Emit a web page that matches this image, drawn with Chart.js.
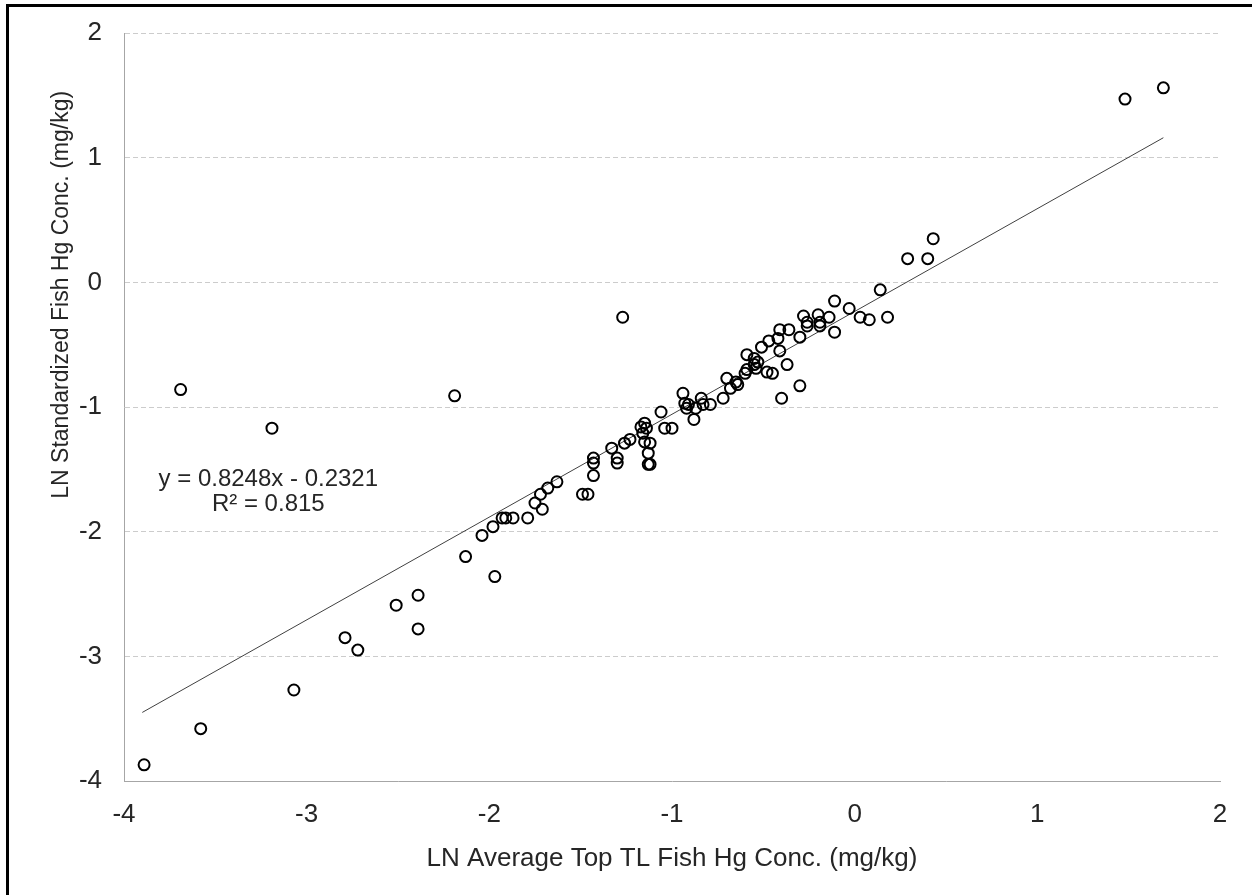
<!DOCTYPE html>
<html>
<head>
<meta charset="utf-8">
<script src="https://cdn.jsdelivr.net/npm/chart.js@4.4.1/dist/chart.umd.min.js"></script>
<style>
  html, body { margin: 0; padding: 0; background: #fff; }
  #wrap { position: relative; width: 1252px; height: 895px; }
  #frame { position: absolute; left: 6px; top: 4px; width: 1300px; height: 1000px;
           border-left: 3px solid #000; border-top: 3px solid #000; pointer-events: none; }
  canvas { position: absolute; left: 0; top: 0; }
</style>
</head>
<body>
<div id="wrap">
  <canvas id="chart" width="1252" height="895"></canvas>
  <div id="frame"></div>
</div>
<script>
// observed points, [LN average top TL Hg, LN standardized Hg]
const pointsX = [
  1.69, 1.48, 0.43, 0.29, 0.40, 0.14, -0.03, 0.03, 0.08, 0.18, -0.11, -0.11,
  -0.28, -0.20, -0.14, -0.26, -0.19, -0.26, -0.19,
  -0.30, -0.36, -0.41, -0.42, -0.47, -0.51, -0.41,
  -0.59, -0.55, -0.53, -0.55, -0.37, -0.48, -0.45,
  -0.59, -0.54, -0.60, -0.70, -0.65, -0.64, -0.68,
  -0.30, -0.40, -0.72,
  -0.94, -0.93, -0.91, -0.84, -0.83, -0.87, -0.79, -0.92, -0.88,
  -1.06, -1.04, -1.00,
  -1.15, -1.17, -1.14, -1.16, -1.15, -1.12, -1.13, -1.13, -1.12,
  -1.23, -1.26, -1.33, -1.30, -1.30, -1.43, -1.43, -1.43, -1.49, -1.46,
  -1.63, -1.68, -1.72, -1.75, -1.71, -1.79, -1.87, -1.91, -1.93, -1.98, -2.04, -2.13, -1.97,
  -3.89, -3.58, -3.07, -2.79, -2.72, -2.51, -2.39, -2.39, -3.69, -3.19, -2.19, -1.27
];
const pointsY = [
  1.56, 1.47, 0.35, 0.19, 0.19, -0.06, -0.21, -0.28, -0.30, -0.28, -0.15, -0.40,
  -0.27, -0.26, -0.28, -0.32, -0.32, -0.35, -0.35,
  -0.44, -0.38, -0.38, -0.45, -0.47, -0.52, -0.55,
  -0.58, -0.61, -0.64, -0.66, -0.66, -0.72, -0.73,
  -0.70, -0.69, -0.73, -0.77, -0.80, -0.82, -0.85,
  -0.83, -0.93, -0.93,
  -0.89, -0.97, -0.98, -0.93, -0.98, -1.01, -0.98, -1.01, -1.10,
  -1.04, -1.17, -1.17,
  -1.13, -1.16, -1.17, -1.21, -1.28, -1.29, -1.37, -1.46, -1.46,
  -1.26, -1.29, -1.33, -1.41, -1.45, -1.41, -1.45, -1.55, -1.70, -1.70,
  -1.60, -1.65, -1.70, -1.77, -1.82, -1.89, -1.89, -1.89, -1.89, -1.96, -2.03, -2.20, -2.36,
  -3.87, -3.58, -3.27, -2.85, -2.95, -2.59, -2.51, -2.78, -0.86, -1.17, -0.91, -0.28
];

// linear trendline end points
const trendX = [-3.90, 1.69];
const trendY = [-3.45, 1.16];

const xTicks = [-4, -3, -2, -1, 0, 1, 2];
const yTicks = [-4, -3, -2, -1, 0, 1, 2];
const eqLines = ['y = 0.8248x - 0.2321', 'R\u00b2 = 0.815'];
const yTitle = 'LN Standardized Fish Hg Conc. (mg/kg)';

const FONT = '"Liberation Sans", Arial, sans-serif';
const TXT = '#262626';

const scatterData = pointsX.map((x, i) => ({ x: x, y: pointsY[i] }));
const trendData = trendX.map((x, i) => ({ x: x, y: trendY[i] }));

// equation label + y title (the y title sits above the axis middle in the original)
const extraText = {
  id: 'extraText',
  afterDatasetsDraw(chart){
    const c = chart.ctx;
    const xs = chart.scales.x, ys = chart.scales.y;
    const cx = xs.getPixelForValue(-3.21);
    c.save();
    c.font = '24px ' + FONT;
    c.fillStyle = TXT;
    c.textAlign = 'center';
    c.textBaseline = 'middle';
    c.fillText(eqLines[0], cx, ys.getPixelForValue(-1.58));
    c.fillText(eqLines[1], cx, ys.getPixelForValue(-1.78));
    c.translate(62, ys.getPixelForValue(-0.1));
    c.rotate(-Math.PI / 2);
    c.font = '23px ' + FONT;
    c.fillText(yTitle, 0, 0);
    c.restore();
  }
};

new Chart(document.getElementById('chart'), {
  type: 'scatter',
  data: {
    datasets: [
      { label: 'points', data: scatterData, pointStyle: 'circle', pointRadius: 5.5, pointHoverRadius: 5.5,
        borderColor: '#000', borderWidth: 2, backgroundColor: 'rgba(0,0,0,0)', order: 1 },
      { label: 'trend', type: 'line', data: trendData, borderColor: '#404040', borderWidth: 1,
        pointRadius: 0, fill: false, order: 2 }
    ]
  },
  options: {
    responsive: false,
    animation: false,
    events: [],
    layout: { padding: { left: 0, top: 33, right: 32, bottom: 0 } },
    plugins: { legend: { display: false }, tooltip: { enabled: false } },
    scales: {
      x: {
        type: 'linear', min: -4, max: 2,
        afterBuildTicks: s => { s.ticks = xTicks.map(v => ({ value: v })); },
        afterFit: s => { s.height = 114; },
        grid: { display: false, drawTicks: false },
        border: { display: true, color: '#a6a6a6', width: 1 },
        ticks: { color: TXT, font: { family: FONT, size: 26 }, padding: 18 },
        title: { display: true, text: 'LN Average Top TL Fish Hg Conc. (mg/kg)', color: TXT,
                 font: { family: FONT, size: 26 }, padding: { top: 0, bottom: 21 } }
      },
      y: {
        type: 'linear', min: -4, max: 2,
        afterBuildTicks: s => { s.ticks = yTicks.map(v => ({ value: v })); },
        afterFit: s => { s.width = 124; s.paddingTop = 0; s.paddingBottom = 0; },
        grid: { drawTicks: false, color: ctx => ctx.tick && ctx.tick.value === -4 ? 'rgba(0,0,0,0)' : '#cccccc' },
        border: { display: true, color: '#a6a6a6', width: 1, dash: [5, 3] },
        ticks: { color: TXT, font: { family: FONT, size: 26 }, padding: 22 },
        title: { display: false }
      }
    }
  },
  plugins: [extraText]
});
</script>
</body>
</html>
